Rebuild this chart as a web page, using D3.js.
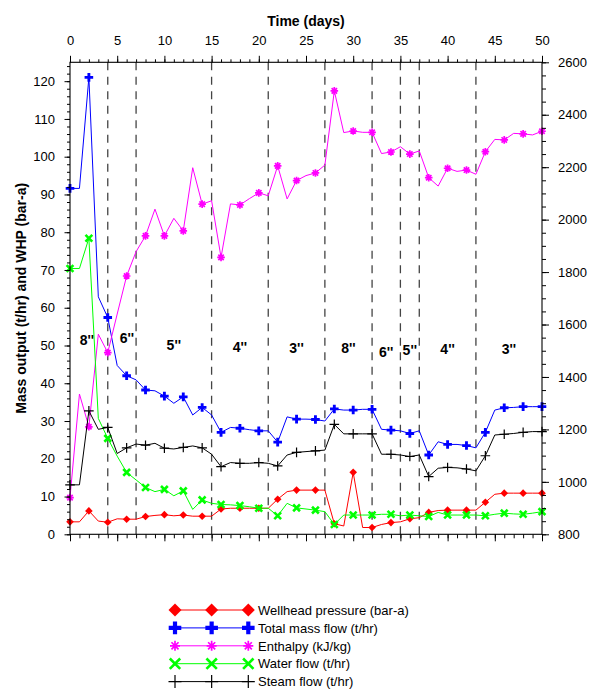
<!DOCTYPE html>
<html>
<head>
<meta charset="utf-8">
<script src="https://cdn.jsdelivr.net/npm/d3@7"></script>
<style>
  html, body { margin: 0; padding: 0; background: #fff; }
  svg text { font-family: Arial, "Liberation Sans", sans-serif; fill: #000; }
</style>
</head>
<body>
<svg id="chart" width="591" height="691"></svg>
<script>
// Daily well test record: time in days
const days = [0,1,2,3,4,5,6,7,8,9,10,11,12,13,14,15,16,17,18,19,20,21,22,23,24,25,
  26,27,28,29,30,31,32,33,34,35,36,37,38,39,40,41,42,43,44,45,46,47,48,49,50];

// Wellhead pressure (bar-a)
const whp = [3.3,3.3,6.2,3.5,3.2,4.1,4.0,4.0,4.7,5.0,5.2,4.9,5.1,4.8,4.8,4.8,6.7,6.9,6.9,6.9,
  6.9,6.9,9.3,11.3,11.7,11.7,11.7,11.7,2.8,2.2,16.4,1.8,1.8,2.6,3.1,3.3,4.1,4.4,5.8,6.3,
  6.4,6.4,6.4,6.4,8.5,10.6,10.9,10.9,10.9,10.9,10.9];

// Total mass flow (t/hr)
const totalFlow = [91.6,91.6,121.0,62.9,57.4,44.7,42.0,40.9,38.2,38.0,36.6,34.7,36.4,31.6,33.6,
  31.6,27.0,28.3,28.1,27.7,27.4,27.4,24.4,31.1,30.5,30.5,30.4,30.0,33.2,32.9,32.9,33.1,33.1,
  27.8,27.6,27.4,26.7,27.4,21.0,24.5,23.8,23.8,23.5,22.9,27.0,32.9,33.5,33.6,33.8,33.8,33.8];

// Enthalpy (kJ/kg)
const enthalpy = [940,1335,1210,1563,1493,1640,1785,1878,1938,2040,1938,2005,1957,2198,2059,
  2072,1856,2060,2056,2080,2102,2091,2205,2079,2149,2168,2178,2208,2491,2332,2338,2333,2333,
  2252,2258,2278,2250,2262,2160,2128,2196,2184,2189,2173,2259,2306,2304,2329,2327,2323,2337];

// Water flow (t/hr)
const waterFlow = [70.4,70.4,78.4,30.7,25.4,20.7,16.4,14.4,12.4,11.3,11.9,10.2,11.5,6.6,9.1,8.2,
  7.9,7.8,7.6,7.3,6.9,6.9,4.9,8.2,7.0,6.7,6.4,6.0,2.6,5.1,5.1,5.1,5.1,5.3,5.3,4.9,5.1,4.9,4.7,
  5.8,5.1,5.1,5.1,5.1,4.9,5.3,5.6,5.4,5.3,5.6,6.0];

// Steam flow (t/hr)
const steamFlow = [13.1,13.1,32.7,27.8,28.3,21.4,22.9,23.9,23.6,24.1,22.8,22.6,23.0,23.4,22.9,
  21.2,17.9,19.0,18.8,18.8,19.0,18.8,18.1,21.0,21.7,21.9,22.1,22.3,29.1,26.6,26.6,26.6,26.6,
  21.2,21.2,21.0,20.6,21.0,15.3,17.5,17.7,17.6,17.3,16.8,20.8,26.3,26.5,26.7,27.0,27.2,27.2];

// Throttle changes (days) and the orifice size used in each period
const changeDays = [4, 7, 15, 21, 27, 32, 35, 37, 43];
const orificeSizes = ["8''", "6''", "5''", "4''", "3''", "8''", "6''", "5''", "4''", "3''"];

// Axis ticks
const timeTicks = [0,5,10,15,20,25,30,35,40,45,50];
const massTicks = [0,10,20,30,40,50,60,70,80,90,100,110,120];
const enthalpyTicks = [800,1000,1200,1400,1600,1800,2000,2200,2400,2600];

const seriesNames = ["Wellhead pressure (bar-a)", "Total mass flow (t/hr)", "Enthalpy (kJ/kg)",
  "Water flow (t/hr)", "Steam flow (t/hr)"];

// ---------- layout ----------
const svg = d3.select("#chart");
const L = 70, R = 542, T = 62.3, B = 534.3;

const x = d3.scaleLinear().domain([0, 50]).range([L, R]);
const yL = d3.scaleLinear().domain([0, 125]).range([B, T]);
const yR = d3.scaleLinear().domain([800, 2600]).range([B, T]);

// ---------- marker shapes ----------
const markers = {
  diamond: (g, s, c) => g.append("path")
    .attr("d", `M0,${-s}L${s},0L0,${s}L${-s},0Z`).attr("fill", c),
  fatPlus: (g, s, c) => {
    const t = s / 3;
    g.append("path")
      .attr("d", `M${-t},${-s}H${t}V${-t}H${s}V${t}H${t}V${s}H${-t}V${t}H${-s}V${-t}H${-t}Z`)
      .attr("fill", c);
  },
  asterisk: (g, s, c) => {
    const d = s * Math.SQRT1_2;
    g.append("path")
      .attr("d", `M0,${-s}V${s}M${-s},0H${s}M${-d},${-d}L${d},${d}M${-d},${d}L${d},${-d}`)
      .attr("stroke", c).attr("stroke-width", 1.7).attr("fill", "none");
  },
  cross: (g, s, c) => g.append("path")
    .attr("d", `M${-s},${-s}L${s},${s}M${-s},${s}L${s},${-s}`)
    .attr("stroke", c).attr("stroke-width", 2.6).attr("fill", "none"),
  thinPlus: (g, s, c) => g.append("path")
    .attr("d", `M0,${-s}V${s}M${-s},0H${s}`)
    .attr("stroke", c).attr("stroke-width", 1.2).attr("fill", "none")
};

const series = [
  { name: seriesNames[0], values: whp, y: yL, color: "#ff0000", marker: "diamond", s: 3.8, ls: 6.5 },
  { name: seriesNames[1], values: totalFlow, y: yL, color: "#0000ff", marker: "fatPlus", s: 4.3, ls: 6.3 },
  { name: seriesNames[2], values: enthalpy, y: yR, color: "#ff00ff", marker: "asterisk", s: 3.8, ls: 5 },
  { name: seriesNames[3], values: waterFlow, y: yL, color: "#00ff00", marker: "cross", s: 3.4, ls: 5.2 },
  { name: seriesNames[4], values: steamFlow, y: yL, color: "#000000", marker: "thinPlus", s: 4.8, ls: 6.5 }
];

// ---------- throttle change lines ----------
svg.append("g").selectAll("line").data(changeDays).join("line")
  .attr("x1", d => x(d)).attr("x2", d => x(d))
  .attr("y1", T).attr("y2", B)
  .attr("stroke", "#444").attr("stroke-width", 1.3)
  .attr("stroke-dasharray", "8,6.5");

// orifice size labels, centred in each period
const bounds = [0, ...changeDays, 50];
const nudgeX = [-2, 5, 0, 0, 0, 0, 0, 0, 0, 0];
const nudgeY = [-6, -8, -1, 1, 2, 2, 6, 4, 3, 3];
svg.append("g").selectAll("text").data(orificeSizes).join("text")
  .attr("x", (d, i) => x((bounds[i] + bounds[i + 1]) / 2) + nudgeX[i])
  .attr("y", (d, i) => yL(50) + nudgeY[i] + 5)
  .attr("text-anchor", "middle")
  .attr("font-size", 14).attr("font-weight", "bold")
  .text(d => d);

// ---------- series ----------
series.forEach(sr => {
  const line = d3.line().x((d, i) => x(days[i])).y(d => sr.y(d));
  const g = svg.append("g");
  g.append("path").datum(sr.values).attr("d", line)
    .attr("fill", "none").attr("stroke", sr.color).attr("stroke-width", 1);
  sr.values.forEach((v, i) => {
    if (days[i] % 2 !== 0) return;
    const mg = g.append("g").attr("transform", `translate(${x(days[i])},${sr.y(v)})`);
    markers[sr.marker](mg, sr.s, sr.color);
  });
});

// ---------- axes ----------
const axisFont = g => g.selectAll("text").attr("font-size", 13)
  .style("font-family", "Arial, 'Liberation Sans', sans-serif");
const clean = g => g.select(".domain").remove();
const plain = d3.format("d");

// top (labelled)
svg.append("g").attr("transform", `translate(0,${T})`)
  .call(d3.axisTop(x).tickValues(d3.range(0, 51, 1)).tickSize(3).tickFormat(""))
  .call(clean);
svg.append("g").attr("transform", `translate(0,${T})`)
  .call(d3.axisTop(x).tickValues(timeTicks).tickSize(6.5).tickPadding(11).tickFormat(plain))
  .call(clean).call(axisFont);

// bottom (ticks only)
svg.append("g").attr("transform", `translate(0,${B})`)
  .call(d3.axisBottom(x).tickValues(d3.range(0, 51, 1)).tickSize(4).tickFormat(""))
  .call(clean);
svg.append("g").attr("transform", `translate(0,${B})`)
  .call(d3.axisBottom(x).tickValues(timeTicks).tickSize(7).tickFormat(""))
  .call(clean);

// left
svg.append("g").attr("transform", `translate(${L},0)`)
  .call(d3.axisLeft(yL).tickValues(d3.range(0, 125, 2)).tickSize(3).tickFormat(""))
  .call(clean);
svg.append("g").attr("transform", `translate(${L},0)`)
  .call(d3.axisLeft(yL).tickValues(massTicks).tickSize(5.5).tickPadding(9.5).tickFormat(plain))
  .call(clean).call(axisFont);

// right
svg.append("g").attr("transform", `translate(${R},0)`)
  .call(d3.axisRight(yR).tickValues(d3.range(800, 2601, 50)).tickSize(4).tickFormat(""))
  .call(clean);
svg.append("g").attr("transform", `translate(${R},0)`)
  .call(d3.axisRight(yR).tickValues(enthalpyTicks).tickSize(7).tickPadding(9).tickFormat(plain))
  .call(clean).call(axisFont);

svg.selectAll(".tick line").attr("stroke", "#000");

// frame
svg.append("rect").attr("x", L).attr("y", T).attr("width", R - L).attr("height", B - T)
  .attr("fill", "none").attr("stroke", "#000").attr("stroke-width", 1.1);

// titles
svg.append("text").attr("x", (L + R) / 2).attr("y", 26)
  .attr("text-anchor", "middle").attr("font-size", 14).attr("font-weight", "bold")
  .text("Time (days)");
svg.append("text")
  .attr("transform", `translate(26,${(T + B) / 2}) rotate(-90)`)
  .attr("text-anchor", "middle").attr("font-size", 14).attr("font-weight", "bold")
  .text("Mass output (t/hr) and WHP (bar-a)");

// ---------- legend ----------
const lg = svg.append("g");
const lx0 = 175, lx1 = 248.3, ly0 = 610, ldy = 17.9;
series.forEach((sr, i) => {
  const yy = ly0 + i * ldy;
  lg.append("line").attr("x1", lx0).attr("x2", lx1).attr("y1", yy).attr("y2", yy)
    .attr("stroke", sr.color).attr("stroke-width", 1);
  [lx0, (lx0 + lx1) / 2, lx1].forEach(px => {
    const mg = lg.append("g").attr("transform", `translate(${px},${yy})`);
    markers[sr.marker](mg, sr.ls, sr.color);
  });
  lg.append("text").attr("x", 258).attr("y", yy + 4.7)
    .attr("font-size", 13).text(sr.name);
});
</script>
</body>
</html>
